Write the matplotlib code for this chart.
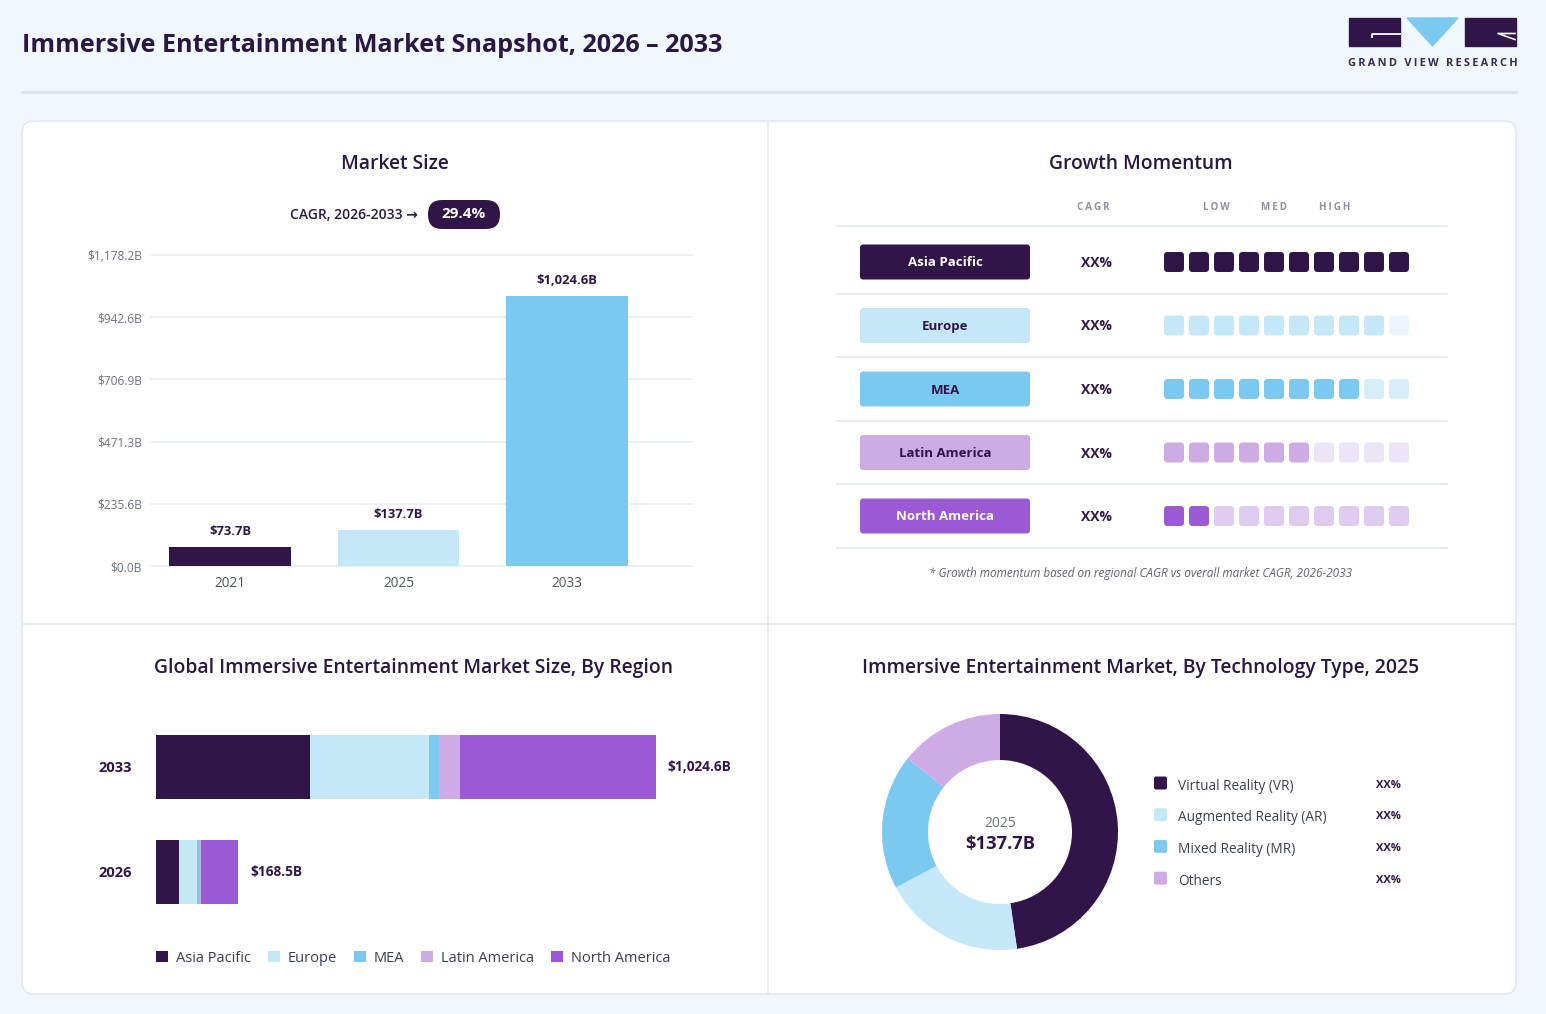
import numpy as np
import matplotlib.pyplot as plt
from matplotlib.patches import FancyBboxPatch, Rectangle, Polygon, Patch
from matplotlib.markers import MarkerStyle

plt.rcParams['font.family'] = ['Open Sans', 'DejaVu Sans']

# ---- data ----
years = ['2021', '2025', '2033']
market_size = [73.7, 137.7, 1024.6]
size_labels = ['$73.7B', '$137.7B', '$1,024.6B']
y_ticks = [0, 235.6, 471.3, 706.9, 942.6, 1178.2]
y_tick_labels = ['$0.0B', '$235.6B', '$471.3B', '$706.9B', '$942.6B', '$1,178.2B']
cagr_label = 'CAGR, 2026-2033 \u2192'
cagr_value = '29.4%'

regions = ['Asia Pacific', 'Europe', 'MEA', 'Latin America', 'North America']
region_cagr = ['XX%', 'XX%', 'XX%', 'XX%', 'XX%']
momentum_filled = [10, 9, 8, 6, 2]
momentum_total = 10

region_years = ['2026', '2033']
region_2026 = [47.0, 37.0, 5.0, 3.0, 76.5]
region_2033 = [315.6, 243.8, 20.5, 43.0, 401.7]
region_totals = ['$168.5B', '$1,024.6B']

tech = ['Virtual Reality (VR)', 'Augmented Reality (AR)', 'Mixed Reality (MR)', 'Others']
tech_share = [47.7, 19.5, 18.5, 14.3]
tech_labels = ['XX%', 'XX%', 'XX%', 'XX%']
donut_year = '2025'
donut_total = '$137.7B'

# ---- colours ----
BG = '#F1F7FE'
DARK = '#311548'
TXT = '#2B1744'
GRAY = '#6B7280'
LINE = '#E3E8F1'
LBLUE = '#C5E8F8'
BLUE = '#7BC9F0'
LAV = '#CFABE6'
PURP = '#9C59D5'
region_colors = [DARK, LBLUE, BLUE, LAV, PURP]
off_colors = ['#E5DCEB', '#EBF6FC', '#D6EEFA', '#EEE4F8', '#DFCBEF']
label_text = ['white', DARK, DARK, DARK, 'white']
bar_colors = [DARK, LBLUE, BLUE]
tech_colors = [DARK, LBLUE, BLUE, LAV]

W, H = 1546, 1014
fig = plt.figure(figsize=(W / 100, H / 100), dpi=100, facecolor=BG)


def rect(x0, y0, x1, y1):
    return [x0 / W, 1 - y1 / H, (x1 - x0) / W, (y1 - y0) / H]


def spaced(s):
    return '\u2009'.join(s)


# background / decoration axes in pixel units
bg = fig.add_axes([0, 0, 1, 1])
bg.set_xlim(0, W)
bg.set_ylim(H, 0)
bg.axis('off')

bg.text(22, 46, 'Immersive Entertainment Market Snapshot, 2026 \u2013 2033',
        fontsize=18.1, fontweight='bold', color=TXT, va='center', ha='left')
bg.plot([22, 1516], [92, 92], color='#DDE3EE', lw=2)

# logo
bg.add_patch(Rectangle((1349, 18), 51, 28, color=DARK))
bg.add_patch(Polygon([(1407, 18), (1458, 18), (1432.5, 46)], color=BLUE))
bg.add_patch(Rectangle((1465, 18), 51, 28, color=DARK))
bg.plot([1400, 1372, 1372], [33.5, 33.5, 37], color='white', lw=1.3)
bg.plot([1515, 1498, 1515], [33.5, 33.5, 39.5], color='white', lw=1.2)
bg.text(1433, 64, spaced('GRAND VIEW RESEARCH'), fontsize=7.9, fontweight='bold',
        color='#3B2A55', ha='center', va='center')

# card
bg.add_patch(FancyBboxPatch((22, 121), 1494, 873, boxstyle='round,pad=0,rounding_size=12',
                            facecolor='white', edgecolor=LINE, lw=1.2))
bg.plot([768, 768], [121, 994], color=LINE, lw=1.2)
bg.plot([22, 1516], [624, 624], color=LINE, lw=1.2)

# panel titles
title_kw = dict(fontsize=13.9, color=TXT, ha='center', va='center', fontweight='semibold')
bg.text(395, 164, 'Market Size', **title_kw)
bg.text(1141, 164, 'Growth Momentum', **title_kw)
bg.text(414, 668, 'Global Immersive Entertainment Market Size, By Region', **title_kw)
bg.text(1141, 668, 'Immersive Entertainment Market, By Technology Type, 2025', **title_kw)

# ---- Market size ----
bg.text(418, 215, cagr_label, fontsize=10, fontweight='semibold', color=TXT,
        ha='right', va='center')
bg.add_patch(FancyBboxPatch((428, 200), 72, 29, boxstyle='round,pad=0,rounding_size=14',
                            facecolor=DARK, edgecolor='none'))
bg.text(464, 214.5, cagr_value, fontsize=11, fontweight='bold', color='white',
        ha='center', va='center')

ax1 = fig.add_axes(rect(150, 255, 693, 566))
ax1.set_facecolor('none')
ax1.set_xlim(-0.475, 2.748)
ax1.set_ylim(0, 1178.2)
ax1.hlines(y_ticks, -0.475, 2.748, color='#E8EDF3', lw=1.2, clip_on=False, zorder=0)
x = np.arange(len(years))
ax1.bar(x, market_size, width=0.724, color=bar_colors, zorder=2)
for xi, v, lab in zip(x, market_size, size_labels):
    ax1.annotate(lab, (xi, v), xytext=(0, 6), textcoords='offset points',
                 ha='center', va='bottom', fontsize=9.4, fontweight='bold', color=DARK)
ax1.set_yticks(y_ticks)
ax1.set_yticklabels(y_tick_labels)
ax1.set_xticks(x)
ax1.set_xticklabels(years)
ax1.tick_params(axis='y', length=0, pad=6, labelsize=8.6, labelcolor=GRAY)
ax1.tick_params(axis='x', length=0, pad=7, labelsize=9.8, labelcolor='#4B5563')
for s in ax1.spines.values():
    s.set_visible(False)

# ---- Growth momentum ----
for lab, xp in [('CAGR', 1093), ('LOW', 1216), ('MED', 1274), ('HIGH', 1335)]:
    bg.text(xp, 207, spaced(lab), fontsize=7, fontweight='bold', color='#8A93A3',
            ha='center', va='center')

row_y0, row_step = 262, 63.5
bg.plot([837, 1447], [226, 226], color=LINE, lw=1.2)
for j, reg in enumerate(regions):
    yc = row_y0 + row_step * j
    bg.plot([837, 1447], [yc + row_step / 2] * 2, color=LINE, lw=1.2)
    bg.add_patch(FancyBboxPatch((860, yc - 17.5), 170, 35, boxstyle='round,pad=0,rounding_size=3',
                                facecolor=region_colors[j], edgecolor='none'))
    bg.text(945, yc + 1, reg, fontsize=9.5, fontweight='bold', color=label_text[j],
            ha='center', va='center')
    bg.text(1096, yc + 1, region_cagr[j], fontsize=10, fontweight='bold', color=DARK,
            ha='center', va='center')

ax2 = fig.add_axes(rect(1161.5, row_y0 - row_step / 2, 1411.5, row_y0 + row_step * 4.5))
ax2.set_xlim(-0.5, momentum_total - 0.5)
ax2.set_ylim(len(regions) - 0.5, -0.5)
ax2.axis('off')
rpath = FancyBboxPatch((-0.5, -0.5), 1, 1, boxstyle='round,pad=0,rounding_size=0.18').get_path()
rmark = MarkerStyle(rpath)
for j, n in enumerate(momentum_filled):
    cols = [region_colors[j] if i < n else off_colors[j] for i in range(momentum_total)]
    ax2.scatter(np.arange(momentum_total), [j] * momentum_total, marker=rmark, s=207,
                c=cols, linewidths=0)

bg.text(1141, 573, '* Growth momentum based on regional CAGR vs overall market CAGR, 2026-2033',
        fontsize=8.5, style='italic', color='#5B6472', ha='center', va='center')

# ---- Region stacked bars ----
ax3 = fig.add_axes(rect(156, 700, 756, 940))
ax3.set_facecolor('none')
ax3.set_xlim(0, 600 / 0.488)
ax3.set_ylim(-0.648, 1.638)
region_data = [region_2026, region_2033]
for yi, vals in enumerate(region_data):
    left = 0
    for k, v in enumerate(vals):
        ax3.barh(yi, v, left=left, height=0.61, color=region_colors[k], lw=0)
        left += v
    ax3.text(left + 24, yi, region_totals[yi], fontsize=9.8, fontweight='bold', color=DARK,
             ha='left', va='center')
ax3.set_yticks([0, 1])
ax3.set_yticklabels(region_years)
ax3.set_xticks([])
ax3.tick_params(axis='y', length=0, pad=17.5, labelsize=10.5, labelcolor=DARK)
for lab in ax3.get_yticklabels():
    lab.set_fontweight('bold')
for s in ax3.spines.values():
    s.set_visible(False)

handles = [Patch(facecolor=c, edgecolor='none') for c in region_colors]
fig.legend(handles, regions, loc='center left', bbox_to_anchor=(156 / W, 1 - 958 / H),
           ncol=5, frameon=False, fontsize=10.5, handlelength=0.85, handleheight=0.85,
           handletextpad=0.55, columnspacing=1.12, borderpad=0, borderaxespad=0,
           labelcolor='#374151')

# ---- Donut ----
ax4 = fig.add_axes(rect(880, 712, 1120, 952))
ax4.pie(tech_share, colors=tech_colors, startangle=90, counterclock=False, radius=1,
        wedgeprops=dict(width=0.39, linewidth=0))
ax4.set_xlim(-1.017, 1.017)
ax4.set_ylim(-1.017, 1.017)
ax4.text(0, 0.076, donut_year, fontsize=10, color=GRAY, ha='center', va='center')
ax4.text(0, -0.10, donut_total, fontsize=13.2, fontweight='bold', color=DARK,
         ha='center', va='center')

for k, name in enumerate(tech):
    yc = 784 + 31.7 * k
    bg.add_patch(FancyBboxPatch((1154, yc - 7.5), 13, 13, boxstyle='round,pad=0,rounding_size=2',
                                facecolor=tech_colors[k], edgecolor='none'))
    bg.text(1178, yc + 2, name, fontsize=9.8, color='#374151', ha='left', va='center')
    bg.text(1388, yc + 1, tech_labels[k], fontsize=8, fontweight='bold', color=DARK,
            ha='center', va='center')

fig.savefig('out.png', dpi=100, facecolor=BG)
